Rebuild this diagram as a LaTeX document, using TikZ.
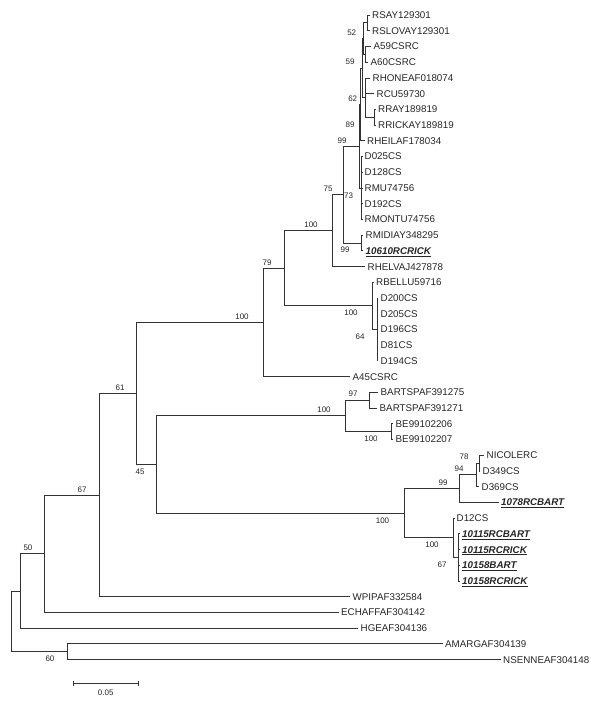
\documentclass[tikz,border=0pt]{standalone}
\usepackage{fontspec}
\setmainfont{Liberation Sans}
\newcommand\ulb[1]{\vtop{\hbox{\bfseries\itshape #1}\kern1.3pt\hrule height0.8pt}}
\begin{document}
\begin{tikzpicture}[x=1pt,y=-1pt,
  br/.style={draw=black!80,line width=0.75pt},
  leaf/.style={anchor=west,inner xsep=2.5pt,inner ysep=0pt,text height=7pt,text depth=0pt,font=\fontsize{9.8}{11}\selectfont,text=black!85},
  bs/.style={inner sep=0pt,font=\fontsize{8}{9}\selectfont,text=black!85,text height=5.7pt,text depth=0pt}]
\useasboundingbox (0,0) rectangle (600,708);
% leaves
\node[leaf] (RSAY) at (369.5,15.0) {RSAY129301};
\node[leaf] (RSLOVAY) at (369.5,30.7) {RSLOVAY129301};
\node[leaf] (A59) at (371,46.4) {A59CSRC};
\node[leaf] (A60) at (368,62.2) {A60CSRC};
\node[leaf] (RHONE) at (370,77.9) {RHONEAF018074};
\node[leaf] (RCU) at (374,93.6) {RCU59730};
\node[leaf] (RRAY) at (375.5,109.3) {RRAY189819};
\node[leaf] (RRICK) at (375.5,125.0) {RRICKAY189819};
\node[leaf] (RHEIL) at (364.5,140.8) {RHEILAF178034};
\node[leaf] (D025) at (362,156.5) {D025CS};
\node[leaf] (D128) at (362,172.2) {D128CS};
\node[leaf] (RMU) at (362,187.9) {RMU74756};
\node[leaf] (D192) at (362,203.6) {D192CS};
\node[leaf] (RMONTU) at (362,219.4) {RMONTU74756};
\node[leaf] (RMIDIA) at (363,235.1) {RMIDIAY348295};
\node[leaf] (R10610) at (363,250.8) {\ulb{10610RCRICK}};
\node[leaf] (RHELV) at (365,266.5) {RHELVAJ427878};
\node[leaf] (RBELL) at (373.5,282.2) {RBELLU59716};
\node[leaf] (D200) at (378,298.0) {D200CS};
\node[leaf] (D205) at (378,313.7) {D205CS};
\node[leaf] (D196) at (378,329.4) {D196CS};
\node[leaf] (D81) at (378,345.1) {D81CS};
\node[leaf] (D194) at (378,360.8) {D194CS};
\node[leaf] (A45) at (350,376.6) {A45CSRC};
\node[leaf] (BA75) at (378,392.3) {BARTSPAF391275};
\node[leaf] (BA71) at (377,408.0) {BARTSPAF391271};
\node[leaf] (BE06) at (393,423.7) {BE99102206};
\node[leaf] (BE07) at (393,439.4) {BE99102207};
\node[leaf] (NICO) at (484,455.2) {NICOLERC};
\node[leaf] (D349) at (480,470.9) {D349CS};
\node[leaf] (D369) at (479,486.6) {D369CS};
\node[leaf] (R1078) at (498.5,502.3) {\ulb{1078RCBART}};
\node[leaf] (D12) at (454,518.0) {D12CS};
\node[leaf] (B115) at (459.5,533.8) {\ulb{10115RCBART}};
\node[leaf] (R115) at (459.5,549.5) {\ulb{10115RCRICK}};
\node[leaf] (B158) at (459.5,565.2) {\ulb{10158BART}};
\node[leaf] (R158) at (459.5,580.9) {\ulb{10158RCRICK}};
\node[leaf] (WPIP) at (350,596.6) {WPIPAF332584};
\node[leaf] (ECH) at (338.5,612.4) {ECHAFFAF304142};
\node[leaf] (HGE) at (358,628.1) {HGEAF304136};
\node[leaf] (AMARG) at (442.5,643.8) {AMARGAF304139};
\node[leaf] (NSEN) at (500.5,659.5) {NSENNEAF304148};
% internal nodes
\coordinate (nRS) at (367.3,22.85);
\coordinate (nA5) at (365,54.3);
\coordinate (nX) at (363,38.6);
\coordinate (nRR) at (374,117.15);
\coordinate (nH) at (365.5,97.5);
\coordinate (n59) at (362,68.05);
\coordinate (nD) at (360.8,104.4);
\coordinate (nPoly) at (361.5,187.95);
\coordinate (nC) at (359.3,146.2);
\coordinate (nMI) at (361.5,242.95);
\coordinate (nB) at (343.5,194.6);
\coordinate (n332) at (332,230.55);
\coordinate (nD2) at (377,329.4);
\coordinate (nBE) at (372,305.8);
\coordinate (n284) at (284,268.2);
\coordinate (n263) at (263,322.4);
\coordinate (nBART) at (369,400.15);
\coordinate (nBE99) at (391,431.55);
\coordinate (n345) at (345,415.85);
\coordinate (nNI) at (479,463.05);
\coordinate (n476) at (476,474.8);
\coordinate (n459) at (459.5,488.55);
\coordinate (nP4) at (458,557.35);
\coordinate (nD12) at (453.5,537.7);
\coordinate (n404) at (404,513.1);
\coordinate (n156) at (156,464.5);
\coordinate (n136) at (136,393.45);
\coordinate (n99) at (99,495.0);
\coordinate (n45) at (44.7,553.7);
\coordinate (n20) at (20.5,590.9);
\coordinate (nAM) at (67,651.65);
\coordinate (root) at (11,621.3);
% branches to leaves
\foreach \p/\c in {nRS/RSAY,nRS/RSLOVAY,nA5/A59,nA5/A60,nRR/RRAY,nRR/RRICK,nH/RHONE,nH/RCU,nD/RHEIL,
  nPoly/D025,nPoly/D128,nPoly/RMU,nPoly/D192,nPoly/RMONTU,nMI/RMIDIA,nMI/R10610,n332/RHELV,
  nD2/D200,nD2/D205,nD2/D196,nD2/D81,nD2/D194,nBE/RBELL,n263/A45,nBART/BA75,nBART/BA71,
  nBE99/BE06,nBE99/BE07,nNI/NICO,nNI/D349,n476/D369,n459/R1078,nP4/B115,nP4/R115,nP4/B158,nP4/R158,
  nD12/D12,n99/WPIP,n45/ECH,n20/HGE,nAM/AMARG,nAM/NSEN}
  \draw[br] (\p) |- (\c.west);
% branches between internal nodes
\foreach \p/\c in {nX/nRS,nX/nA5,nH/nRR,n59/nX,n59/nH,nD/n59,nC/nD,nC/nPoly,nB/nC,nB/nMI,n332/nB,
  nBE/nD2,n284/n332,n284/nBE,n263/n284,n345/nBART,n345/nBE99,n476/nNI,n459/n476,nD12/nP4,
  n404/n459,n404/nD12,n156/n345,n156/n404,n136/n263,n136/n156,n99/n136,n45/n99,n20/n45,root/n20,root/nAM}
  \draw[br] (\p) |- (\c);
% bootstrap values
\node[bs] (b52) at (351.7,32.5) {52};
\node[bs] (b59) at (350,62) {59};
\node[bs] (b62) at (352.7,98.5) {62};
\node[bs] (b89) at (350,124.5) {89};
\node[bs] (b99a) at (342,140.2) {99};
\node[bs] (b75) at (328,188.6) {75};
\node[bs] (b73) at (348.5,195.5) {73};
\node[bs] (b100a) at (311,224.5) {100};
\node[bs] (b99b) at (345,250) {99};
\node[bs] (b79) at (267,262.2) {79};
\node[bs] (b100b) at (242,316.4) {100};
\node[bs] (b100c) at (351,313) {100};
\node[bs] (b64) at (360,337) {64};
\node[bs] (b97) at (353,394) {97};
\node[bs] (b100d) at (324,410) {100};
\node[bs] (b100e) at (371,439) {100};
\node[bs] (b78) at (464,457) {78};
\node[bs] (b94) at (459,469) {94};
\node[bs] (b99c) at (443,483) {99};
\node[bs] (b100f) at (382.5,521) {100};
\node[bs] (b100g) at (432,545) {100};
\node[bs] (b67a) at (442,565) {67};
\node[bs] (b61) at (120,388) {61};
\node[bs] (b45) at (140,472) {45};
\node[bs] (b67b) at (82,489.5) {67};
\node[bs] (b50) at (28,548) {50};
\node[bs] (b60) at (50,659) {60};
% scale bar
\coordinate (sbL) at (73,683);
\coordinate (sbR) at (138.5,683);
\draw[br] (sbL) -- (sbR);
\draw[br] ([yshift=-2.5pt]sbL) -- ([yshift=2.5pt]sbL);
\draw[br] ([yshift=-2.5pt]sbR) -- ([yshift=2.5pt]sbR);
\node[bs] (sbT) at (105.7,693) {0.05};
\end{tikzpicture}
\end{document}
